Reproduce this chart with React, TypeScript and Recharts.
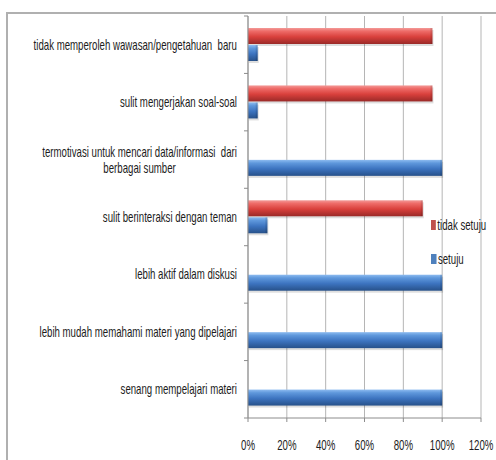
import { Bar, BarChart, CartesianGrid, Legend, XAxis, YAxis } from "recharts";

const categories = [
  "tidak memperoleh wawasan/pengetahuan  baru",
  "sulit mengerjakan soal-soal",
  "termotivasi untuk mencari data/informasi  dari\nberbagai sumber",
  "sulit berinteraksi dengan teman",
  "lebih aktif dalam diskusi",
  "lebih mudah memahami materi yang dipelajari",
  "senang mempelajari materi",
];
const tidakSetuju = [0.95, 0.95, 0, 0.9, 0, 0, 0];
const setuju = [0.05, 0.05, 1, 0.1, 1, 1, 1];
const xTicks = [0, 0.2, 0.4, 0.6, 0.8, 1, 1.2];
const seriesOrder = ["tidak setuju", "setuju"];

const data = categories.map((name, i) => ({
  name,
  tidakSetuju: tidakSetuju[i],
  setuju: setuju[i],
}));

const W = 496;
const H = 460;
const MARGIN = { top: 16, right: 15, bottom: 12, left: 0 };
const X_AXIS_H = 30;
const BAND = (H - MARGIN.top - MARGIN.bottom - X_AXIS_H) / categories.length;
const FONT = '"Liberation Sans", Arial, sans-serif';
const FS = 14;
const SX = 0.69; // the source text is narrow, squeeze it sideways
const TEXT = "#1c1c1c";

let ctx: CanvasRenderingContext2D | null = null;
function measure(s: string) {
  if (!ctx) ctx = document.createElement("canvas").getContext("2d");
  if (!ctx) return s.length * 6 * SX;
  ctx.font = `${FS}px ${FONT}`;
  return ctx.measureText(s).width * SX;
}

function NarrowText({ x, y, anchor = "middle", children }: any) {
  return (
    <text
      transform={`translate(${x} ${y}) scale(${SX} 1)`}
      textAnchor={anchor}
      fontSize={FS}
      fontFamily={FONT}
      fill={TEXT}
      style={{ whiteSpace: "pre" }}
    >
      {children}
    </text>
  );
}

function CategoryTick(props: any) {
  const { x, y, payload, index } = props;
  const lines = String(payload.value).split("\n");
  const maxW = Math.max(...lines.map(measure));
  const cx = x - maxW / 2;
  return (
    <g>
      <line x1={x + 7} x2={x + 11} y1={y - BAND / 2} y2={y - BAND / 2} stroke="#8c8c8c" />
      {index === categories.length - 1 && (
        <line x1={x + 7} x2={x + 11} y1={y + BAND / 2} y2={y + BAND / 2} stroke="#8c8c8c" />
      )}
      {lines.map((l, i) => (
        <NarrowText key={i} x={cx} y={y + 5 + (i - (lines.length - 1) / 2) * 16}>
          {l}
        </NarrowText>
      ))}
    </g>
  );
}

function PercentTick(props: any) {
  const { x, y, payload } = props;
  return (
    <NarrowText x={x} y={y + 10}>
      {`${Math.round(payload.value * 100)}%`}
    </NarrowText>
  );
}

function BevelBar(props: any) {
  const { x, y, width, height, dataKey } = props;
  if (!width || width <= 0) return null;
  return (
    <g>
      <rect x={x + 1} y={y + 2} width={width} height={height} fill="#000" opacity={0.13} />
      <rect x={x} y={y} width={width} height={height} fill={`url(#grad-${dataKey})`} />
      <rect x={x + width - 2} y={y} width={2} height={height} fill="#000" opacity={0.12} />
    </g>
  );
}

function LegendContent({ payload }: any) {
  const items = [...(payload || [])].sort(
    (a: any, b: any) => seriesOrder.indexOf(a.value) - seriesOrder.indexOf(b.value),
  );
  return (
    <div style={{ fontFamily: FONT, fontSize: FS, color: TEXT, whiteSpace: "nowrap" }}>
      {items.map((p: any) => (
        <div
          key={p.value}
          style={{
            display: "flex",
            alignItems: "center",
            height: 17,
            marginBottom: 17,
            transform: `scaleX(${SX})`,
            transformOrigin: "left",
          }}
        >
          <span
            style={{
              display: "inline-block",
              width: 8,
              height: 10,
              marginRight: 2,
              background: p.color,
            }}
          />
          <span>{p.value}</span>
        </div>
      ))}
    </div>
  );
}

export default function App() {
  return (
    <div
      style={{
        position: "absolute",
        left: 0,
        top: 0,
        width: W,
        height: H,
        overflow: "hidden",
        background: "#fff",
      }}
    >
      <div
        style={{
          position: "absolute",
          left: 6,
          top: 12,
          width: 600,
          height: 600,
          borderLeft: "2px solid #b0b0b0",
          borderTop: "2px solid #b0b0b0",
        }}
      />
      <div style={{ position: "absolute", left: 0, top: 0 }}>
        <BarChart
          width={W}
          height={H}
          data={data}
          layout="vertical"
          margin={MARGIN}
          barSize={16}
          barGap={1}
        >
          <defs>
            <linearGradient id="grad-tidakSetuju" x1="0" y1="0" x2="0" y2="1">
              <stop offset="0%" stopColor="#f39a98" />
              <stop offset="20%" stopColor="#ee6b68" />
              <stop offset="55%" stopColor="#d9403c" />
              <stop offset="100%" stopColor="#9a2a28" />
            </linearGradient>
            <linearGradient id="grad-setuju" x1="0" y1="0" x2="0" y2="1">
              <stop offset="0%" stopColor="#8ebcf0" />
              <stop offset="20%" stopColor="#5f98dc" />
              <stop offset="55%" stopColor="#3d74c0" />
              <stop offset="100%" stopColor="#27518a" />
            </linearGradient>
          </defs>
          <CartesianGrid horizontal={false} stroke="#b5b5b5" />
          <XAxis
            type="number"
            domain={[0, 1.2]}
            ticks={xTicks}
            height={X_AXIS_H}
            tick={<PercentTick />}
            tickSize={4}
            tickMargin={18}
            stroke="#8c8c8c"
            interval={0}
          />
          <YAxis
            type="category"
            dataKey="name"
            width={248}
            tickSize={4}
            tickMargin={7}
            tickLine={false}
            stroke="#8c8c8c"
            tick={<CategoryTick />}
            interval={0}
          />
          <Legend
            layout="vertical"
            align="center"
            verticalAlign="middle"
            content={<LegendContent />}
            wrapperStyle={{ left: 431, top: 216, width: 80 }}
          />
          <Bar
            dataKey="tidakSetuju"
            name="tidak setuju"
            fill="#c0504d"
            shape={<BevelBar />}
            isAnimationActive={false}
          />
          <Bar
            dataKey="setuju"
            name="setuju"
            fill="#4f81bd"
            shape={<BevelBar />}
            isAnimationActive={false}
          />
        </BarChart>
      </div>
    </div>
  );
}
